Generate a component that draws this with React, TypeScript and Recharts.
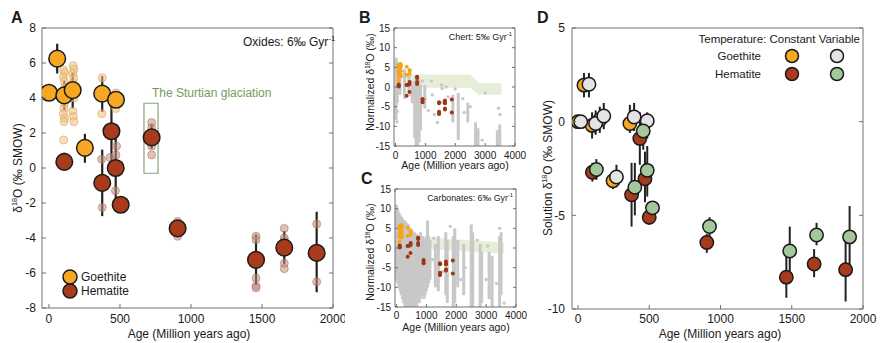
import React from "react";
import { ComposedChart, Scatter, XAxis, YAxis, ErrorBar, Area, ReferenceArea } from "recharts";

const FONT = "'Liberation Sans', Arial, Helvetica, sans-serif";
const AXIS = "#707070";
const INK = "#1a1a1a";
const GOETHITE = "#f7a823";
const HEMATITE = "#a83b1b";
const VAR_GOETHITE = "#e4e4e6";
const VAR_HEMATITE = "#a4c79c";
const GREY = "#c8c8c8";

// A: locality means [age Ma, δ18O, low, high]
const goethiteMeans = [
  [0, 4.3, 4.3, 4.3],
  [58, 6.25, 5.4, 7.1],
  [108, 4.15, 3.3, 5.0],
  [167, 4.45, 3.4, 5.45],
  [253, 1.15, 0.3, 1.95],
  [375, 4.25, 3.2, 5.25],
  [472, 3.9, 3.9, 3.9],
];
const hematiteMeans = [
  [108, 0.35, 0.0, 0.75],
  [375, -0.85, -2.75, 1.05],
  [440, 2.1, -0.3, 4.0],
  [470, 0.0, -1.7, 1.7],
  [505, -2.1, -2.1, -2.1],
  [723, 1.75, 1.1, 2.5],
  [906, -3.45, -3.9, -3.0],
  [1458, -5.25, -6.7, -3.8],
  [1657, -4.55, -5.5, -3.6],
  [1885, -4.85, -7.1, -2.5],
];

// A: individual samples [age Ma, δ18O]
const goethiteSamples = [
  [104, 5.6], [110, 5.45], [102, 5.2], [108, 4.95], [112, 4.6], [104, 4.0],
  [110, 3.7], [106, 3.4], [102, 3.1], [110, 2.85], [106, 2.65], [104, 1.6],
  [170, 5.85], [176, 5.65], [168, 5.4], [174, 5.15], [170, 4.85], [176, 4.0],
  [168, 3.25], [172, 2.95], [176, 2.65],
  [375, 5.15], [372, 3.1],
  [472, 4.3], [476, 4.1], [470, 3.4],
];
const hematiteSamples = [
  [108, 0.65], [104, 0.3], [110, 0.1],
  [371, 0.5], [375, -2.25],
  [430, 0.6], [472, 0.75], [476, 1.25], [468, -1.3],
  [723, 2.6], [723, 2.3], [723, 1.25], [723, 0.75],
  [906, -3.05], [906, -3.3], [906, -3.9],
  [1458, -3.9], [1458, -4.1], [1458, -6.3], [1458, -6.75], [1458, -6.85],
  [1657, -3.45], [1657, -4.0], [1657, -4.15], [1657, -5.45], [1657, -5.75],
  [1885, -3.2], [1885, -6.5],
];

// B: chert compilation, dense runs [age, low, high] and single points [age, value]
const chertColumns = [
  [20, -8.5, 7.5], [60, -4, 6.5], [150, -2, 6], [300, -3, 4.5], [450, -1.5, 3.5],
  [560, -4, 0.5], [640, -13, 1.5], [690, -15, 3], [740, -15, 2.5], [790, -14, 2],
  [840, -11, 0.5], [980, -5.5, 0.5], [1920, -9, -2], [2100, -13.5, -1.5],
  [2420, -9, -4], [2680, -15, -9], [2760, -15, -10.5], [3410, -15, -11], [3490, -15, -9.5],
];
const chertPoints = [
  [40, -2.5], [30, -3.8], [60, -6.2], [50, -8.9], [500, 0.5], [520, -2], [600, -3.8],
  [1000, -3], [1100, -6], [1200, 1.5], [1230, -2], [1300, -7], [1540, 0.5], [1560, -0.4],
  [1590, -3.8], [1700, 0], [1760, -2.5], [2000, -0.5], [2250, -3], [2300, -6.5],
  [2500, -5], [2900, -13.5], [3000, -1.5], [3450, -5.4], [3500, -7], [1400, -9], [900, 1.5],
];
const chertBand = [
  [300, -0.2, 3.2], [2500, -0.2, 3.2], [2780, -2.0, 1.0], [3550, -2.0, 1.0],
];

// C: carbonate compilation
const carbonateColumns = [
  [0, -8, 11], [40, -9, 10], [80, -10, 9], [120, -11, 8.5], [160, -12, 8], [200, -13, 7.5],
  [240, -14, 7], [280, -15, 7], [320, -15, 6.5], [360, -15, 6], [400, -15, 6], [440, -15, 5],
  [480, -15, 5], [520, -15, 4.5], [560, -15, 4], [600, -15, 4], [640, -15, 3.5], [680, -15, 3.5],
  [720, -14, 3], [760, -14, 3], [800, -13, 4], [840, -12, 3], [880, -12, 3], [920, -13, 2.5],
  [960, -12, 2.5], [1000, -11, 3], [1040, -10, 7], [1080, -9, 3], [1120, -8, 2],
  [1300, -10, 1], [1400, -11, 3], [1650, -12, 4], [1700, -14, 2], [1900, -15, 3],
  [1950, -14, 5], [2050, -10, 2], [2250, -12, 1], [2500, -15, 6], [2550, -15, 4],
  [2800, -15, 1], [2850, -14, -1], [3100, -13, -1], [3200, -15, -2], [3450, -15, 3], [3500, -12, 4],
];
const carbonatePoints = [
  [1200, -3], [1250, 2.5], [1550, -6], [2150, -8], [2300, -5], [2700, 2], [3000, -8],
  [3050, 0.5], [3600, -14], [3450, 5], [3350, -9], [1800, 5.5],
];
const carbonateBand = [
  [700, -0.1, 2.8], [3600, -1.4, 1.4],
];

// D: solution δ18O [age, value, low, high]
const goethiteConst = [
  [0, 0.0, -0.3, 0.3], [42, 1.95, 1.3, 2.6], [99, -0.2, -0.9, 0.5],
  [153, 0.1, -0.6, 0.8], [246, -3.15, -3.6, -2.7], [364, -0.1, -0.6, 0.9],
];
const goethiteVar = [
  [19, 0.0, -0.3, 0.3], [77, 2.0, 1.3, 2.6], [124, -0.1, -0.7, 0.6], [181, 0.3, -0.4, 1.0],
  [270, -2.95, -3.5, -2.3], [394, 0.25, -0.5, 1.0], [486, 0.05, -0.9, 0.5],
];
const hematiteConst = [
  [101, -2.7, -3.2, -2.2], [376, -3.9, -5.6, -2.2], [434, -0.9, -2.3, 0.5],
  [470, -3.05, -4.3, -1.6], [500, -5.1, -5.5, -4.7], [904, -6.45, -7.0, -6.0],
  [1462, -8.3, -9.4, -6.9], [1657, -7.6, -8.3, -6.8], [1878, -7.9, -9.6, -6.1],
];
const hematiteVar = [
  [129, -2.55, -3.1, -2.0], [399, -3.5, -5.0, -2.2], [458, -0.5, -1.5, 0.3],
  [486, -2.6, -4.0, -1.3], [523, -4.6, -4.9, -4.3], [923, -5.6, -6.1, -5.1],
  [1486, -6.9, -8.2, -5.6], [1674, -6.05, -6.6, -5.4], [1906, -6.15, -7.9, -4.5],
];

const ageTicksA = [0, 500, 1000, 1500, 2000];
const ageTicksBC = [0, 1000, 2000, 3000, 4000];
const isoTicksA = [-8, -6, -4, -2, 0, 2, 4, 6, 8];
const isoTicksBC = [-15, -10, -5, 0, 5, 10, 15];
const isoTicksD = [-10, -5, 0, 5];

const means = (rows: number[][]) => rows.map(([x, y, lo, hi]) => ({ x, y, err: [y - lo, hi - y] }));
const pts = (rows: number[][]) => rows.map(([x, y]) => ({ x, y }));
const cols = (rows: number[][]) => rows.map(([x, lo, hi]) => ({ x, y: (lo + hi) / 2, err: (hi - lo) / 2 }));
const band = (rows: number[][]) => rows.map(([x, lo, hi]) => ({ x, band: [lo, hi] }));

const dot = (r: number, fill: string, stroke = INK, sw = 1.5, op = 1) => (p: any) =>
  <circle cx={p.cx} cy={p.cy} r={r} fill={fill} fillOpacity={op} stroke={stroke} strokeWidth={sw} strokeOpacity={op < 1 ? op : 1} />;
const none = () => <g />;

// plot box edges measured from the chart's own corner; each frame axis takes 1px
const inset = (t: number, r: number, b: number, l: number) => ({ top: t - 1, right: r - 1, bottom: b - 1, left: l - 1 });

type FrameOpts = {
  xd: [number, number];
  yd: [number, number];
  xt: number[];
  yt: number[];
  fs: number;
  xGap: number;
  yGap: number;
  tk: number;
};

function frame(f: FrameOpts) {
  const bottom = (p: any) => (
    <g>
      <line x1={p.x} x2={p.x} y1={p.y} y2={p.y - f.tk} stroke={AXIS} />
      <text x={p.x} y={p.y + f.xGap} textAnchor="middle" fontSize={f.fs} fill={INK} fontFamily={FONT}>
        {p.payload.value}
      </text>
    </g>
  );
  const top = (p: any) => <line x1={p.x} x2={p.x} y1={p.y} y2={p.y + f.tk} stroke={AXIS} />;
  const left = (p: any) => (
    <g>
      <line x1={p.x} x2={p.x + f.tk} y1={p.y} y2={p.y} stroke={AXIS} />
      <text x={p.x - f.yGap} y={p.y + f.fs * 0.36} textAnchor="end" fontSize={f.fs} fill={INK} fontFamily={FONT}>
        {p.payload.value}
      </text>
    </g>
  );
  const right = (p: any) => <line x1={p.x} x2={p.x - f.tk} y1={p.y} y2={p.y} stroke={AXIS} />;
  const common = {
    type: "number" as const,
    allowDataOverflow: true,
    interval: 0 as const,
    tickLine: false,
    tickSize: 0,
    tickMargin: 0,
    axisLine: { stroke: AXIS },
  };
  return [
    <XAxis key="xb" dataKey="x" domain={f.xd} ticks={f.xt} height={1} tick={bottom} {...common} />,
    <XAxis key="xt" xAxisId="top" orientation="top" domain={f.xd} ticks={f.xt} height={1} tick={top} {...common} />,
    <YAxis key="yl" dataKey="y" domain={f.yd} ticks={f.yt} width={1} tick={left} {...common} />,
    <YAxis key="yr" yAxisId="right" orientation="right" domain={f.yd} ticks={f.yt} width={1} tick={right} {...common} />,
  ];
}

const bar = (w = 2) => (
  <ErrorBar dataKey="err" direction="y" width={0} stroke="#222" strokeWidth={w} isAnimationActive={false} />
);

function PanelA() {
  return (
    <ComposedChart width={345} height={343} margin={inset(28, 12, 35, 42)}>
      {frame({ xd: [-49, 2000], yd: [-8, 8], xt: ageTicksA, yt: isoTicksA, fs: 12, xGap: 15, yGap: 6, tk: 4 })}
      <ReferenceArea x1={669} x2={768} y1={-0.3} y2={3.7} fill="none" stroke="#86a872" strokeWidth={1.2} ifOverflow="visible" />
      <Scatter data={pts(goethiteSamples)} shape={dot(4, "#f2c27e", "#d39a55", 1, 0.55)} isAnimationActive={false} />
      <Scatter data={pts(hematiteSamples)} shape={dot(4, "#c3907b", "#a87060", 1, 0.55)} isAnimationActive={false} />
      <Scatter data={means(goethiteMeans)} shape={dot(8.3, GOETHITE)} isAnimationActive={false}>
        {bar(2.2)}
      </Scatter>
      <Scatter data={means(hematiteMeans)} shape={dot(8.3, HEMATITE)} isAnimationActive={false}>
        {bar(2.2)}
      </Scatter>
    </ComposedChart>
  );
}

function Compilation({ columns, points, bandRows, height, margin, xGap }: { columns: number[][]; points: number[][]; bandRows: number[][]; height: number; margin: any; xGap: number }) {
  return (
    <ComposedChart width={180} height={height} data={band(bandRows)} margin={margin}>
      {frame({ xd: [-50, 4000], yd: [-15, 15], xt: ageTicksBC, yt: isoTicksBC, fs: 10, xGap, yGap: 4, tk: 3 })}
      <Area dataKey="band" type="linear" fill="#e6eed8" fillOpacity={1} stroke="none" isAnimationActive={false} />
      <Scatter data={cols(columns)} shape={none} isAnimationActive={false}>
        <ErrorBar dataKey="err" direction="y" width={0} stroke={GREY} strokeWidth={3} isAnimationActive={false} />
      </Scatter>
      <Scatter data={pts(points)} shape={dot(1.7, GREY, GREY, 0)} isAnimationActive={false} />
      <Scatter data={pts(goethiteSamples)} shape={dot(2, "#f4a51c", "#f4a51c", 0)} isAnimationActive={false} />
      <Scatter data={pts(hematiteSamples)} shape={dot(2, "#9e3516", "#9e3516", 0)} isAnimationActive={false} />
    </ComposedChart>
  );
}

function PanelD() {
  return (
    <ComposedChart width={352} height={343} margin={inset(28, 19, 34, 42)}>
      {frame({ xd: [-42, 2000], yd: [-10, 5], xt: ageTicksA, yt: isoTicksD, fs: 12, xGap: 14, yGap: 7, tk: 4 })}
      <Scatter data={means(goethiteConst)} shape={dot(6.7, GOETHITE)} isAnimationActive={false}>{bar(2)}</Scatter>
      <Scatter data={means(hematiteConst)} shape={dot(6.7, HEMATITE)} isAnimationActive={false}>{bar(2)}</Scatter>
      <Scatter data={means(goethiteVar)} shape={dot(6.7, VAR_GOETHITE)} isAnimationActive={false}>{bar(2)}</Scatter>
      <Scatter data={means(hematiteVar)} shape={dot(6.7, VAR_HEMATITE)} isAnimationActive={false}>{bar(2)}</Scatter>
    </ComposedChart>
  );
}

const Iso = ({ size }: { size: number }) => (
  <>
    δ<tspan dy={-size * 0.4} fontSize={size * 0.6}>18</tspan>
    <tspan dy={size * 0.4}>O</tspan>
  </>
);
const PerGyr = ({ size }: { size: number }) => (
  <>
    Gyr<tspan dy={-size * 0.4} fontSize={size * 0.65}>-1</tspan>
  </>
);

function Overlay() {
  return (
    <svg width={882} height={343} style={{ position: "absolute", left: 0, top: 0, pointerEvents: "none" }} fontFamily={FONT} fill={INK}>
      <text x={11} y={23} fontSize={16} fontWeight="bold">A</text>
      <text x={359} y={23} fontSize={16} fontWeight="bold">B</text>
      <text x={361} y={184} fontSize={16} fontWeight="bold">C</text>
      <text x={537} y={23} fontSize={16} fontWeight="bold">D</text>

      {/* panel A */}
      <text transform="translate(22,168) rotate(-90)" textAnchor="middle" fontSize={12}>
        <Iso size={12} /> (‰ SMOW)
      </text>
      <text x={189} y={338} textAnchor="middle" fontSize={12}>Age (Million years ago)</text>
      <text x={243} y={46} fontSize={12}>Oxides: 6‰ <PerGyr size={12} /></text>
      <text x={152} y={97} fontSize={12} fill="#6e9e5a">The Sturtian glaciation</text>
      <circle cx={70} cy={277} r={7} fill={GOETHITE} stroke={INK} strokeWidth={1.5} />
      <circle cx={70} cy={291} r={7} fill={HEMATITE} stroke={INK} strokeWidth={1.5} />
      <text x={81} y={281} fontSize={12}>Goethite</text>
      <text x={81} y={295} fontSize={12}>Hematite</text>

      {/* panel B */}
      <text x={512} y={40} textAnchor="end" fontSize={9}>Chert: 5‰ <PerGyr size={9} /></text>
      <text transform="translate(374,82) rotate(-90)" textAnchor="middle" fontSize={10.5}>
        Normalized <Iso size={10.5} /> (‰)
      </text>
      <text x={455} y={169} textAnchor="middle" fontSize={10.5}>Age (Million years ago)</text>

      {/* panel C */}
      <text x={513} y={201} textAnchor="end" fontSize={8.8}>Carbonates: 6‰ <PerGyr size={8.8} /></text>
      <text transform="translate(374,252) rotate(-90)" textAnchor="middle" fontSize={10.5}>
        Normalized <Iso size={10.5} /> (‰)
      </text>
      <text x={456} y={331} textAnchor="middle" fontSize={10.5}>Age (Million years ago)</text>

      {/* panel D */}
      <text transform="translate(552,168) rotate(-90)" textAnchor="middle" fontSize={12}>
        Solution <Iso size={12} /> (‰ SMOW)
      </text>
      <text x={720} y={338} textAnchor="middle" fontSize={12}>Age (Million years ago)</text>
      <text x={860} y={43} textAnchor="end" fontSize={11.5}>Temperature: Constant Variable</text>
      <text x={761} y={60} textAnchor="end" fontSize={11.5}>Goethite</text>
      <text x={761} y={78} textAnchor="end" fontSize={11.5}>Hematite</text>
      <circle cx={792} cy={56} r={6.5} fill={GOETHITE} stroke={INK} strokeWidth={1.5} />
      <circle cx={837} cy={56} r={6.5} fill={VAR_GOETHITE} stroke={INK} strokeWidth={1.5} />
      <circle cx={792} cy={74} r={6.5} fill={HEMATITE} stroke={INK} strokeWidth={1.5} />
      <circle cx={837} cy={74} r={6.5} fill={VAR_HEMATITE} stroke={INK} strokeWidth={1.5} />
    </svg>
  );
}

export default function App() {
  return (
    <div style={{ position: "absolute", left: 0, top: 0, width: 882, height: 343, background: "#fff", fontFamily: FONT }}>
      <div style={{ position: "absolute", left: 0, top: 0 }}>
        <PanelA />
      </div>
      <div style={{ position: "absolute", left: 350, top: 0 }}>
        <Compilation columns={chertColumns} points={chertPoints} bandRows={chertBand} height={170}
          margin={inset(28, 15, 24, 44)} xGap={12.5} />
      </div>
      <div style={{ position: "absolute", left: 350, top: 170 }}>
        <Compilation columns={carbonateColumns} points={carbonatePoints} bandRows={carbonateBand} height={173}
          margin={inset(19, 14, 36, 45)} xGap={12} />
      </div>
      <div style={{ position: "absolute", left: 530, top: 0 }}>
        <PanelD />
      </div>
      <Overlay />
    </div>
  );
}
